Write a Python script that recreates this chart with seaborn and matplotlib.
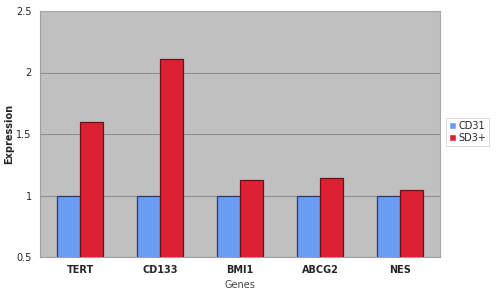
import matplotlib
matplotlib.use("Agg")
import matplotlib.pyplot as plt
import seaborn as sns
import pandas as pd

genes = ["TERT", "CD133", "BMI1", "ABCG2", "NES"]
cd31 = [1.0, 1.0, 1.0, 1.0, 1.0]
sd3 = [1.60, 2.11, 1.125, 1.145, 1.045]
series = ["CD31", "SD3+"]
yticks = [0.5, 1, 1.5, 2, 2.5]
ytick_labels = ["0.5", "1", "1.5", "2", "2.5"]

df = pd.DataFrame({
    "Genes": genes * 2,
    "Expression": cd31 + sd3,
    "Series": [series[0]] * len(genes) + [series[1]] * len(genes),
})

sns.set_style("white")
plt.rcParams["font.family"] = ["DejaVu Sans"]

fig = plt.figure(figsize=(4.98, 2.92), dpi=100)
ax = fig.add_axes([40 / 498, 35 / 292, 400 / 498, 246 / 292])
ax.set_facecolor("#C0C0C0")

palette = {"CD31": "#6A9EF5", "SD3+": "#DC2232"}
sns.barplot(data=df, x="Genes", y="Expression", hue="Series", palette=palette,
            width=0.575, ax=ax, saturation=1, zorder=3)

edge = {"CD31": "#2B3A6B", "SD3+": "#6B1018"}
for cont, s in zip(ax.containers, series):
    for p in cont.patches:
        p.set_edgecolor(edge[s])
        p.set_linewidth(0.9)

ax.set_ylim(0.5, 2.5)
ax.set_yticks(yticks)
ax.set_yticklabels(ytick_labels, fontsize=7)
ax.set_xlim(-0.5, 4.5)
ax.set_xticks(range(len(genes)))
ax.set_xticklabels(genes, fontsize=7, fontweight="bold")
ax.set_xticks([i + 0.5 for i in range(-1, len(genes))], minor=True)
ax.tick_params(axis="x", which="major", length=0, pad=6)
ax.tick_params(axis="x", which="minor", length=3, color="#A0A0A0", width=0.6)
ax.tick_params(axis="y", length=0, pad=6)
ax.yaxis.grid(True, color="#8E8E8E", linewidth=0.8, zorder=1)
ax.set_axisbelow(True)

for sp in ["top", "right"]:
    ax.spines[sp].set_visible(True)
    ax.spines[sp].set_color("#A8A8A8")
    ax.spines[sp].set_linewidth(0.8)
for sp in ["left", "bottom"]:
    ax.spines[sp].set_color("#A0A0A0")
    ax.spines[sp].set_linewidth(0.8)

ax.set_xlabel("Genes", fontsize=7, color="#444444")
ax.xaxis.set_label_coords(0.5, -0.095)
ax.set_ylabel("Expression", fontsize=7, fontweight="bold")
ax.yaxis.set_label_coords(-0.065, 0.5)

leg = ax.legend(loc="upper left", bbox_to_anchor=(1.015, 0.565), fontsize=7,
                frameon=True, fancybox=False, handlelength=0.7, handleheight=0.8,
                handletextpad=0.3, borderpad=0.3, labelspacing=0.2,
                borderaxespad=0)
leg.get_frame().set_edgecolor("#C8C8C8")
leg.get_frame().set_linewidth(0.6)

fig.savefig("out.png", dpi=100)
